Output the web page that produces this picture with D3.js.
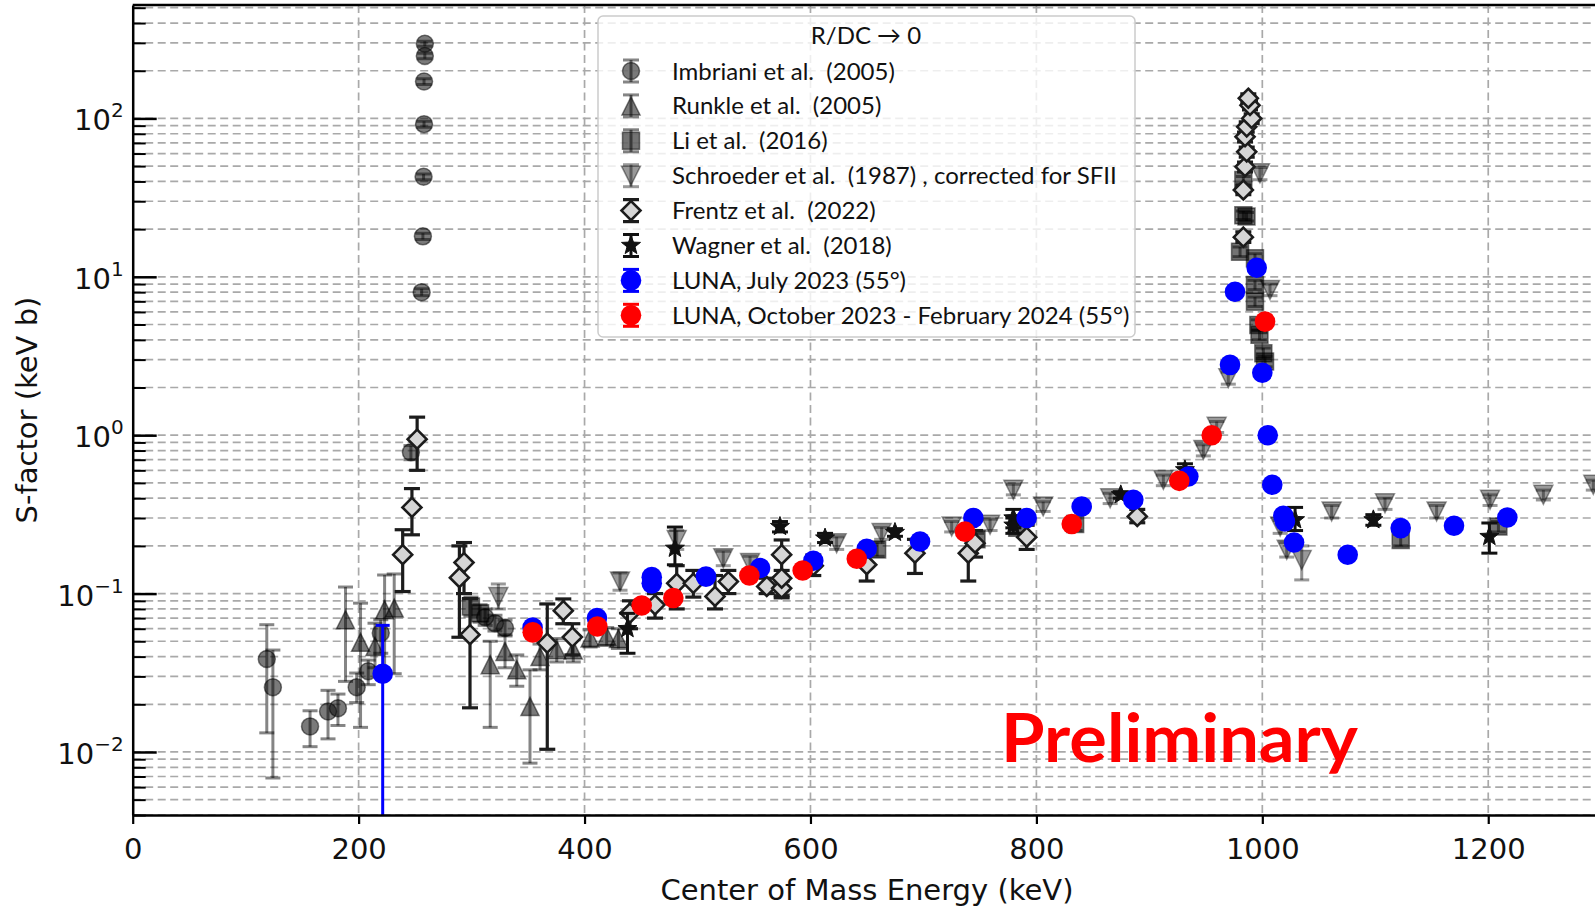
<!DOCTYPE html>
<html>
<head>
<meta charset="utf-8">
<script src="https://cdn.jsdelivr.net/npm/d3@7"></script>
<style>
  html, body { margin: 0; padding: 0; background: #ffffff; }
  svg { display: block; }
</style>
</head>
<body>
<svg id="chart" width="1595" height="908"></svg>
<script>
// ---- Data: [energy (keV), S-factor (keV b), lower bound, upper bound] ----
const imbriani = [
  [118.7, 0.0386, 0.0132, 0.0636],
  [124.1, 0.0256, 0.00685, 0.044],
  [157.0, 0.0145, 0.0108, 0.0182],
  [172.9, 0.0180, 0.0121, 0.0245],
  [181.7, 0.0189, 0.0147, 0.0232],
  [198.3, 0.0256, 0.0205, 0.0315],
  [208.5, 0.0323, 0.0266, 0.038],
  [219.6, 0.0563, 0.042, 0.0684],
  [246.3, 0.78, 0.70, 0.86],
  [255.8, 8.0, 7.6, 8.4],
  [256.9, 18.0, 17.2, 18.8],
  [257.5, 42.8, 41.0, 44.6],
  [257.9, 92, 88, 96],
  [257.9, 171, 164, 178],
  [258.6, 248, 238, 258],
  [258.6, 296, 285, 307],
  [312.0, 0.071, 0.063, 0.080],
  [320.7, 0.065, 0.058, 0.073],
  [329.6, 0.0606, 0.054, 0.068]
];

const runkle = [
  [188.4, 0.0684, 0.0279, 0.110],
  [201.7, 0.0492, 0.0143, 0.087],
  [214.5, 0.0464, 0.034, 0.065],
  [223.0, 0.079, 0.0315, 0.131],
  [231.5, 0.081, 0.0312, 0.133],
  [316.5, 0.0356, 0.0143, 0.050],
  [329.6, 0.0431, 0.034, 0.055],
  [340.0, 0.0331, 0.026, 0.041],
  [351.7, 0.0194, 0.0085, 0.033],
  [360.6, 0.040, 0.033, 0.048],
  [375.4, 0.0442, 0.037, 0.052],
  [390.0, 0.044, 0.037, 0.051],
  [404.9, 0.0524, 0.046, 0.059],
  [419.6, 0.0538, 0.047, 0.061],
  [430.0, 0.052, 0.045, 0.060]
];

const li = [
  [299.4, 0.083, 0.072, 0.095],
  [307.5, 0.075, 0.066, 0.085],
  [659.0, 0.19, 0.172, 0.21],
  [747.0, 0.22, 0.20, 0.24],
  [783.0, 0.26, 0.24, 0.28],
  [834.3, 0.275, 0.25, 0.30],
  [980.3, 14.4, 13.4, 15.4],
  [983.2, 40.8, 38.5, 43.0],
  [983.2, 24.5, 23.0, 26.0],
  [986.0, 24.0, 22.5, 25.5],
  [993.5, 13.1, 12.2, 14.0],
  [993.5, 8.88, 8.3, 9.5],
  [993.5, 6.97, 6.5, 7.45],
  [996.5, 4.97, 4.6, 5.35],
  [997.5, 4.30, 4.0, 4.6],
  [1000.9, 3.29, 3.05, 3.55],
  [1002.4, 2.92, 2.7, 3.15],
  [1122.5, 0.218, 0.20, 0.238],
  [1209.0, 0.265, 0.245, 0.285]
];

const schroeder = [
  [323.7, 0.095, 0.080, 0.115],
  [431.4, 0.119, 0.105, 0.135],
  [481.6, 0.218, 0.19, 0.25],
  [522.8, 0.167, 0.15, 0.185],
  [546.5, 0.156, 0.14, 0.172],
  [623.2, 0.208, 0.19, 0.228],
  [663.0, 0.241, 0.22, 0.262],
  [725.0, 0.265, 0.245, 0.285],
  [759.0, 0.272, 0.25, 0.295],
  [779.6, 0.452, 0.42, 0.49],
  [806.0, 0.355, 0.33, 0.38],
  [865.3, 0.40, 0.37, 0.43],
  [912.4, 0.522, 0.48, 0.56],
  [947.8, 0.807, 0.74, 0.87],
  [959.6, 1.13, 1.04, 1.22],
  [969.9, 2.29, 2.1, 2.5],
  [997.9, 45, 41, 49],
  [1006.8, 8.26, 7.6, 9.0],
  [1015.8, 0.265, 0.24, 0.29],
  [1021.6, 0.189, 0.17, 0.21],
  [1034.9, 0.163, 0.122, 0.20],
  [1061.4, 0.33, 0.30, 0.36],
  [1108.6, 0.372, 0.34, 0.40],
  [1154.3, 0.33, 0.30, 0.36],
  [1201.6, 0.391, 0.36, 0.42],
  [1248.8, 0.42, 0.39, 0.45],
  [1293.0, 0.486, 0.45, 0.52]
];

const frentz = [
  [239.0, 0.176, 0.103, 0.253],
  [247.2, 0.35, 0.235, 0.46],
  [251.8, 0.944, 0.60, 1.30],
  [289.2, 0.126, 0.053, 0.20],
  [293.3, 0.157, 0.10, 0.21],
  [298.6, 0.055, 0.019, 0.093],
  [367.0, 0.0487, 0.0104, 0.086],
  [381.2, 0.078, 0.0645, 0.0925],
  [389.2, 0.0531, 0.041, 0.0645],
  [440.2, 0.0753, 0.060, 0.090],
  [462.4, 0.0849, 0.070, 0.100],
  [481.6, 0.116, 0.080, 0.150],
  [496.3, 0.116, 0.095, 0.140],
  [515.5, 0.096, 0.080, 0.130],
  [527.3, 0.119, 0.100, 0.140],
  [561.3, 0.111, 0.100, 0.125],
  [574.5, 0.108, 0.097, 0.120],
  [574.5, 0.125, 0.110, 0.140],
  [574.5, 0.176, 0.094, 0.218],
  [602.5, 0.150, 0.130, 0.175],
  [649.8, 0.152, 0.120, 0.190],
  [692.5, 0.180, 0.134, 0.220],
  [739.7, 0.180, 0.120, 0.220],
  [745.7, 0.208, 0.170, 0.250],
  [791.4, 0.227, 0.190, 0.270],
  [889.3, 0.307, 0.280, 0.340],
  [983.2, 17.8, 16.5, 19.2],
  [983.2, 35.3, 33, 37.6],
  [984.7, 49.5, 46, 53],
  [986.2, 61.5, 57, 66],
  [984.7, 76.6, 71, 82],
  [986.2, 88.5, 82, 95],
  [990.6, 100, 93, 107],
  [989.1, 121, 113, 129],
  [987.6, 134, 125, 143]
];

const wagner = [
  [438.0, 0.060, 0.042, 0.075],
  [480.0, 0.193, 0.152, 0.263],
  [573.0, 0.265, 0.245, 0.285],
  [612.9, 0.224, 0.21, 0.24],
  [674.8, 0.243, 0.23, 0.257],
  [779.6, 0.300, 0.26, 0.34],
  [779.6, 0.270, 0.24, 0.30],
  [874.7, 0.420, 0.40, 0.44],
  [931.5, 0.604, 0.55, 0.66],
  [1029.0, 0.292, 0.25, 0.35],
  [1098.3, 0.292, 0.27, 0.315],
  [1201.0, 0.229, 0.18, 0.279]
];

const lunaJuly = [
  [221.3, 0.0312, 0.0001, 0.063],
  [354.0, 0.061, 0.059, 0.063],
  [411.0, 0.070, 0.068, 0.072],
  [459.5, 0.127, 0.123, 0.131],
  [459.5, 0.116, 0.112, 0.120],
  [507.5, 0.128, 0.124, 0.132],
  [555.4, 0.145, 0.141, 0.149],
  [602.5, 0.161, 0.156, 0.166],
  [649.8, 0.192, 0.186, 0.198],
  [697.0, 0.213, 0.207, 0.219],
  [744.2, 0.300, 0.291, 0.309],
  [791.4, 0.300, 0.291, 0.309],
  [840.1, 0.355, 0.345, 0.365],
  [885.8, 0.391, 0.380, 0.402],
  [934.5, 0.548, 0.532, 0.564],
  [971.4, 2.78, 2.70, 2.86],
  [975.8, 8.05, 7.80, 8.30],
  [995.0, 11.4, 11.0, 11.8],
  [1000.0, 2.48, 2.40, 2.56],
  [1004.8, 1.00, 0.97, 1.03],
  [1008.8, 0.486, 0.472, 0.500],
  [1018.6, 0.310, 0.301, 0.319],
  [1020.0, 0.285, 0.277, 0.293],
  [1028.1, 0.210, 0.204, 0.216],
  [1075.6, 0.176, 0.171, 0.181],
  [1122.5, 0.259, 0.251, 0.267],
  [1169.7, 0.268, 0.260, 0.276],
  [1216.9, 0.302, 0.293, 0.311]
];

const lunaOct = [
  [354.1, 0.0569, 0.0552, 0.0586],
  [411.3, 0.062, 0.060, 0.064],
  [450.6, 0.084, 0.081, 0.087],
  [478.6, 0.0937, 0.091, 0.0965],
  [545.9, 0.130, 0.126, 0.134],
  [593.1, 0.140, 0.136, 0.144],
  [641.0, 0.166, 0.161, 0.171],
  [736.8, 0.246, 0.239, 0.253],
  [831.3, 0.275, 0.267, 0.283],
  [926.5, 0.515, 0.500, 0.530],
  [955.2, 1.00, 0.97, 1.03],
  [1002.4, 5.21, 5.05, 5.37]
];

const xTicks = [0, 200, 400, 600, 800, 1000, 1200];
const yMajor = [0.01, 0.1, 1, 10, 100];
const yExponents = ["\u22122", "\u22121", "0", "1", "2"];

const legendTitle = "R/DC \u2192 0";
const legendLabels = [
  "Imbriani et al.  (2005)",
  "Runkle et al.  (2005)",
  "Li et al.  (2016)",
  "Schroeder et al.  (1987) , corrected for SFII",
  "Frentz et al.  (2022)",
  "Wagner et al.  (2018)",
  "LUNA, July 2023 (55\u00b0)",
  "LUNA, October 2023 - February 2024 (55\u00b0)"
];

// ---- Marker / errorbar styles ----
const styles = {
  imbriani:  { shape: "circle",  r: 8.5,  fill: "rgba(0,0,0,0.52)", stroke: "rgba(0,0,0,0.5)", sw: 1.5, bar: "rgba(0,0,0,0.48)", bw: 3, cap: 7.5 },
  runkle:    { shape: "triUp",   r: 9,    fill: "rgba(0,0,0,0.52)", stroke: "rgba(0,0,0,0.5)", sw: 1.5, bar: "rgba(0,0,0,0.48)", bw: 3, cap: 7.5 },
  li:        { shape: "square",  r: 8.5,  fill: "rgba(0,0,0,0.55)", stroke: "rgba(0,0,0,0.5)", sw: 1.5, bar: "rgba(0,0,0,0.5)",  bw: 3, cap: 7.5 },
  schroeder: { shape: "triDown", r: 9.5,  fill: "rgba(0,0,0,0.40)", stroke: "rgba(0,0,0,0.4)", sw: 1.5, bar: "rgba(0,0,0,0.4)",  bw: 3, cap: 7.5 },
  frentz:    { shape: "diamond", r: 9.5,  fill: "#d6d6d6", stroke: "#1c1c1c", sw: 2.6, bar: "#1c1c1c", bw: 3.2, cap: 8 },
  wagner:    { shape: "star",    r: 10,   fill: "#111111", stroke: "#111111", sw: 1,   bar: "#111111", bw: 3,   cap: 8 },
  lunaJuly:  { shape: "circle",  r: 10.3, fill: "#0000ff", stroke: "none",    sw: 0,   bar: "#0000ff", bw: 3,   cap: 7 },
  lunaOct:   { shape: "circle",  r: 10.3, fill: "#ff0000", stroke: "none",    sw: 0,   bar: "#ff0000", bw: 3,   cap: 7 }
};

const seriesOrder = [
  [imbriani, styles.imbriani],
  [runkle, styles.runkle],
  [li, styles.li],
  [schroeder, styles.schroeder],
  [frentz, styles.frentz],
  [wagner, styles.wagner],
  [lunaJuly, styles.lunaJuly],
  [lunaOct, styles.lunaOct]
];

// ---- Scales ----
const plot = { left: 132.7, right: 1601.2, top: 5, bottom: 815 };
const x = d3.scaleLinear().domain([0, 1300]).range([plot.left, plot.right]);
const y = d3.scaleLog().domain([0.004, 520]).range([plot.bottom, plot.top]);

// minor log ticks 2..9 x 10^k inside the domain
const yMinor = [];
for (let k = -3; k <= 2; k++) {
  for (let m = 2; m <= 9; m++) {
    const v = m * Math.pow(10, k);
    if (v >= 0.004 && v <= 520) yMinor.push(v);
  }
}
const yAll = yMajor.concat(yMinor);

const svg = d3.select("#chart");
const FONT = "'DejaVu Sans', sans-serif";
const LEGFONT = "Lato, 'DejaVu Sans', sans-serif";

svg.append("defs").append("clipPath").attr("id", "plotClip")
  .append("rect")
  .attr("x", plot.left).attr("y", plot.top)
  .attr("width", plot.right - plot.left).attr("height", plot.bottom - plot.top);

// ---- Grid ----
const grid = svg.append("g").attr("clip-path", "url(#plotClip)");
grid.selectAll("line.hgrid").data(yAll).join("line")
  .attr("class", "hgrid")
  .attr("x1", plot.left).attr("x2", plot.right)
  .attr("y1", d => y(d)).attr("y2", d => y(d))
  .attr("stroke", "#a9a9a9").attr("stroke-width", 1.7)
  .attr("stroke-dasharray", "8,4.5");
grid.selectAll("line.vgrid").data(xTicks.filter(d => d > 0)).join("line")
  .attr("class", "vgrid")
  .attr("x1", d => x(d)).attr("x2", d => x(d))
  .attr("y1", plot.top).attr("y2", plot.bottom)
  .attr("stroke", "#a9a9a9").attr("stroke-width", 1.7)
  .attr("stroke-dasharray", "8,4.5");

// ---- Marker shapes ----
function markerPath(shape, r) {
  switch (shape) {
    case "circle":
      return d3.symbol(d3.symbolCircle, Math.PI * r * r)();
    case "triUp":
      return `M0,${-r}L${r},${r}L${-r},${r}Z`;
    case "triDown":
      return `M0,${r}L${r},${-r}L${-r},${-r}Z`;
    case "square":
      return `M${-r},${-r}H${r}V${r}H${-r}Z`;
    case "diamond":
      return `M0,${-r}L${r},0L0,${r}L${-r},0Z`;
    case "star": {
      const pts = [];
      const ri = r * 0.42;
      for (let i = 0; i < 10; i++) {
        const a = -Math.PI / 2 + i * Math.PI / 5;
        const rr = i % 2 === 0 ? r : ri;
        pts.push([rr * Math.cos(a), rr * Math.sin(a)]);
      }
      return "M" + pts.map(p => p[0].toFixed(2) + "," + p[1].toFixed(2)).join("L") + "Z";
    }
  }
  return "";
}

// ---- Series with error bars ----
const dataLayer = svg.append("g").attr("clip-path", "url(#plotClip)");

function drawSeries(data, st) {
  const g = dataLayer.append("g");
  g.selectAll("line.bar").data(data).join("line")
    .attr("x1", d => x(d[0])).attr("x2", d => x(d[0]))
    .attr("y1", d => y(d[2])).attr("y2", d => y(d[3]))
    .attr("stroke", st.bar).attr("stroke-width", st.bw);
  g.selectAll("line.capLo").data(data).join("line")
    .attr("x1", d => x(d[0]) - st.cap).attr("x2", d => x(d[0]) + st.cap)
    .attr("y1", d => y(d[2])).attr("y2", d => y(d[2]))
    .attr("stroke", st.bar).attr("stroke-width", st.bw);
  g.selectAll("line.capHi").data(data).join("line")
    .attr("x1", d => x(d[0]) - st.cap).attr("x2", d => x(d[0]) + st.cap)
    .attr("y1", d => y(d[3])).attr("y2", d => y(d[3]))
    .attr("stroke", st.bar).attr("stroke-width", st.bw);
  const p = markerPath(st.shape, st.r);
  g.selectAll("path.mk").data(data).join("path")
    .attr("d", p)
    .attr("transform", d => `translate(${x(d[0])},${y(d[1])})`)
    .attr("fill", st.fill)
    .attr("stroke", st.stroke)
    .attr("stroke-width", st.sw)
    .attr("stroke-linejoin", "miter");
}
seriesOrder.forEach(([data, st]) => drawSeries(data, st));

// ---- Axes ----
const xAxis = d3.axisBottom(x).tickValues(xTicks).tickSize(9).tickSizeOuter(0).tickPadding(14)
  .tickFormat(d3.format("d"));
const gx = svg.append("g").attr("transform", `translate(0,${plot.bottom})`).call(xAxis);
gx.select(".domain").attr("stroke", "#000").attr("stroke-width", 2.5);
gx.selectAll(".tick line").attr("stroke", "#000").attr("stroke-width", 2.2);
gx.selectAll(".tick text").attr("font-family", FONT).attr("font-size", 29).attr("fill", "#111");

const yAxisMinor = d3.axisLeft(y).tickValues(yMinor).tickSize(-13).tickSizeOuter(0).tickFormat("");
const gyMinor = svg.append("g").attr("transform", `translate(${plot.left},0)`).call(yAxisMinor);
gyMinor.select(".domain").remove();
gyMinor.selectAll(".tick line").attr("stroke", "#000").attr("stroke-width", 2);

const yAxis = d3.axisLeft(y).tickValues(yMajor).tickSize(-24).tickSizeOuter(0).tickPadding(9);
const gy = svg.append("g").attr("transform", `translate(${plot.left},0)`).call(yAxis);
gy.select(".domain").attr("stroke", "#000").attr("stroke-width", 2.5);
gy.selectAll(".tick line").attr("stroke", "#000").attr("stroke-width", 2.5);
gy.selectAll(".tick text").each(function (d, i) {
  const t = d3.select(this);
  t.text(null).attr("dy", null).attr("y", 11.5)
    .attr("font-family", FONT).attr("font-size", 29).attr("fill", "#111");
  t.append("tspan").text("10");
  t.append("tspan").attr("font-size", 20).attr("dy", -13).text(yExponents[i]);
});

// top spine
svg.append("line")
  .attr("x1", plot.left).attr("x2", plot.right)
  .attr("y1", plot.top).attr("y2", plot.top)
  .attr("stroke", "#000").attr("stroke-width", 2.5);

// ---- Axis titles ----
svg.append("text")
  .attr("x", (plot.left + plot.right) / 2).attr("y", 900)
  .attr("text-anchor", "middle")
  .attr("font-family", FONT).attr("font-size", 29).attr("fill", "#111")
  .text("Center of Mass Energy (keV)");

svg.append("text")
  .attr("transform", `translate(37,${(plot.top + plot.bottom) / 2}) rotate(-90)`)
  .attr("text-anchor", "middle")
  .attr("font-family", FONT).attr("font-size", 29).attr("fill", "#111")
  .text("S-factor (keV b)");

// ---- Legend ----
const leg = svg.append("g");
leg.append("rect")
  .attr("x", 598).attr("y", 16).attr("width", 537).attr("height", 321)
  .attr("rx", 5).attr("ry", 5)
  .attr("fill", "rgba(255,255,255,0.8)")
  .attr("stroke", "#cccccc").attr("stroke-width", 1.5);
leg.append("text")
  .attr("x", 866).attr("y", 44)
  .attr("text-anchor", "middle")
  .attr("font-family", LEGFONT).attr("font-size", 24).attr("fill", "#111")
  .text(legendTitle);

const legendStyles = [styles.imbriani, styles.runkle, styles.li, styles.schroeder,
                      styles.frentz, styles.wagner, styles.lunaJuly, styles.lunaOct];
legendLabels.forEach((label, i) => {
  const st = legendStyles[i];
  const cy = 71 + 34.9 * i;
  const cx = 631;
  const row = leg.append("g");
  row.append("line").attr("x1", cx).attr("x2", cx).attr("y1", cy - 11).attr("y2", cy + 11)
    .attr("stroke", st.bar).attr("stroke-width", st.bw);
  [cy - 11, cy + 11].forEach(yy => {
    row.append("line").attr("x1", cx - 8).attr("x2", cx + 8).attr("y1", yy).attr("y2", yy)
      .attr("stroke", st.bar).attr("stroke-width", st.bw);
  });
  row.append("path").attr("d", markerPath(st.shape, st.r))
    .attr("transform", `translate(${cx},${cy})`)
    .attr("fill", st.fill).attr("stroke", st.stroke).attr("stroke-width", st.sw);
  row.append("text")
    .attr("x", 672).attr("y", cy + 8.5)
    .attr("font-family", LEGFONT).attr("font-size", 24).attr("fill", "#111")
    .style("white-space", "pre")
    .text(label);
});

// ---- Overlay note ----
svg.append("text")
  .attr("x", 1001).attr("y", 762)
  .attr("font-family", "Lato, 'Open Sans', sans-serif")
  .attr("font-weight", 700).attr("font-size", 66)
  .attr("fill", "#ff0000")
  .attr("textLength", 357).attr("lengthAdjust", "spacingAndGlyphs")
  .text("Preliminary");
</script>
</body>
</html>
